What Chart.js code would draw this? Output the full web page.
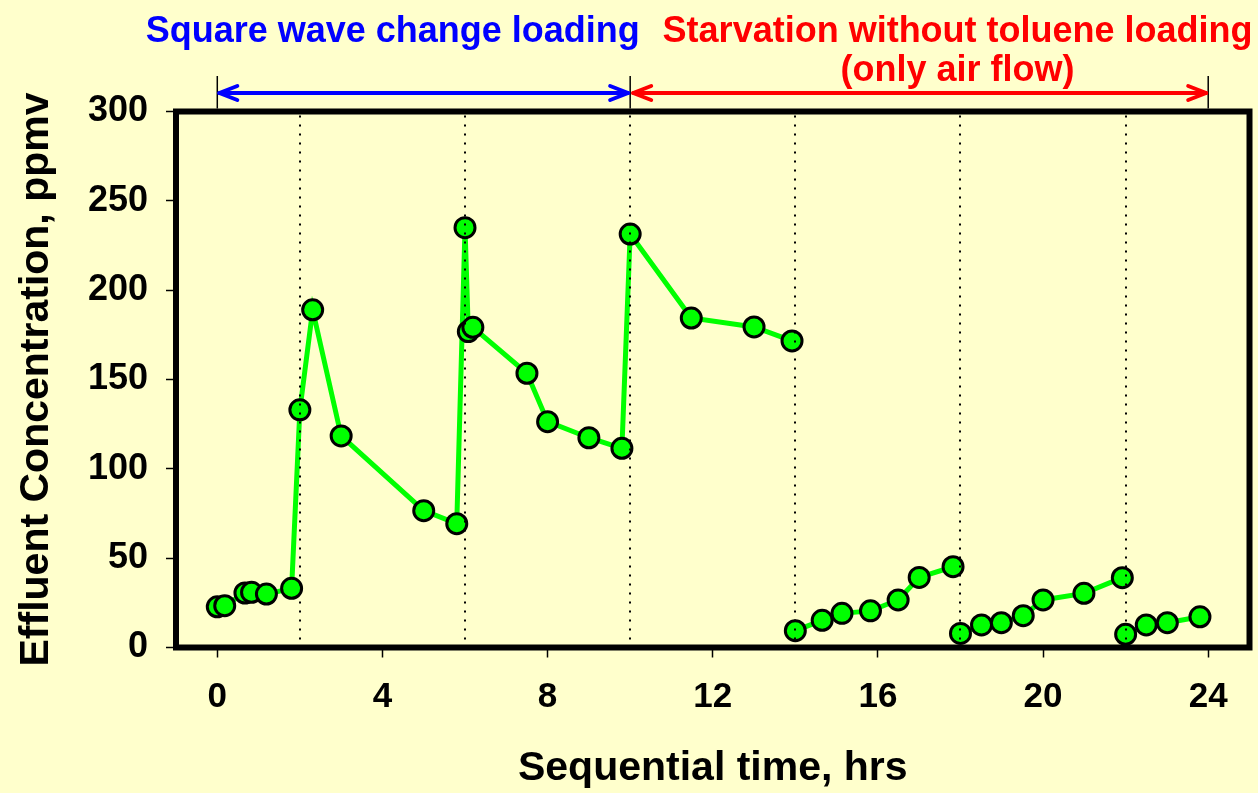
<!DOCTYPE html>
<html>
<head>
<meta charset="utf-8">
<script src="https://cdn.jsdelivr.net/npm/chart.js@4/dist/chart.umd.min.js"></script>
<style>
    html, body { margin: 0; padding: 0; background: #FFFFCC; overflow: hidden; }
    #wrap { width: 1258px; height: 793px; position: relative; }
</style>
</head>
<body>
<div id="wrap"><canvas id="effluentChart"></canvas></div>
<script>
// Effluent toluene concentration vs sequential time

// phase 1: square wave loading (0 - 14 h)
const seg1Time = [0, 0.18, 0.67, 0.83, 1.19, 1.8, 2.0, 2.31, 3.0, 5.0, 5.8, 6.0, 6.08, 6.19, 7.5, 8.0, 9.0, 9.8, 10.0, 11.48, 13.0, 13.92];
const seg1Conc = [22.8, 23.4, 30.5, 30.9, 29.9, 33.1, 133, 189, 118.4, 76.6, 69.3, 235, 176.8, 179.2, 153.5, 126.4, 117.4, 111.5, 231.4, 184.4, 179.4, 171.6];
// starvation periods (no toluene, only air)
const seg2Time = [14.0, 14.65, 15.13, 15.82, 16.49, 17.0, 17.82];
const seg2Conc = [9.4, 15.2, 19.1, 20.5, 26.6, 39.2, 45.2];
const seg3Time = [18.0, 18.51, 18.99, 19.52, 20.0, 20.99, 21.92];
const seg3Conc = [7.9, 12.6, 13.9, 17.8, 26.6, 30.3, 39.1];
const seg4Time = [22.0, 22.5, 23.01, 23.8];
const seg4Conc = [7.4, 12.6, 13.9, 17.2];

const xTickValues = [0, 4, 8, 12, 16, 20, 24];
const yTickValues = [0, 50, 100, 150, 200, 250, 300];
const switchTimes = [2, 6, 10, 14, 18, 22];
const phaseBounds = [0, 10, 24];
const phaseLabels = ['Square wave change loading', 'Starvation without toluene loading', '(only air flow)'];

const FONT = '"Liberation Sans", Arial, sans-serif';
const GREEN = '#00FF00';

function toPoints(t, c) {
    return t.map((v, i) => ({ x: v, y: c[i] }));
}

function segment(t, c) {
    return {
        data: toPoints(t, c),
        borderColor: GREEN,
        borderWidth: 5,
        backgroundColor: GREEN,
        pointRadius: 10,
        pointHoverRadius: 10,
        pointBackgroundColor: GREEN,
        pointBorderColor: '#000',
        pointBorderWidth: 3,
        tension: 0,
        clip: false
    };
}

// dotted switch lines, plot frame and the phase arrows on top
const overlayPlugin = {
    id: 'overlay',
    afterDatasetsDraw(chart) {
        const { ctx, chartArea, scales: { x } } = chart;
        ctx.save();
        ctx.strokeStyle = '#000';
        ctx.lineWidth = 2;
        ctx.setLineDash([2, 7]);
        switchTimes.forEach(t => {
            const px = Math.round(x.getPixelForValue(t));
            ctx.beginPath();
            ctx.moveTo(px, chartArea.top + 4);
            ctx.lineTo(px, chartArea.bottom);
            ctx.stroke();
        });
        ctx.restore();
    },
    afterDraw(chart) {
        const { ctx, chartArea, scales: { x } } = chart;
        ctx.save();
        // frame
        ctx.strokeStyle = '#000';
        ctx.lineWidth = 6;
        ctx.strokeRect(chartArea.left, chartArea.top, chartArea.right - chartArea.left, chartArea.bottom - chartArea.top);

        // bounds of the two phases
        const bx = phaseBounds.map(v => x.getPixelForValue(v));
        ctx.lineWidth = 1.5;
        bx.forEach(px => {
            ctx.beginPath();
            ctx.moveTo(px, 76);
            ctx.lineTo(px, chartArea.top - 3);
            ctx.stroke();
        });

        const arrowY = 93;
        drawArrow(ctx, bx[0] + 2, bx[1] - 2, arrowY, '#0000FF');
        drawArrow(ctx, bx[1] + 3, bx[2] - 2, arrowY, '#FF0000');

        ctx.font = 'bold 36px ' + FONT;
        ctx.textAlign = 'center';
        ctx.textBaseline = 'alphabetic';
        ctx.fillStyle = '#0000FF';
        ctx.fillText(phaseLabels[0], x.getPixelForValue(4.25), 42);
        ctx.fillStyle = '#FF0000';
        ctx.fillText(phaseLabels[1], x.getPixelForValue(17.93), 42);
        ctx.fillText(phaseLabels[2], x.getPixelForValue(17.93), 81);
        ctx.restore();
    }
};

function drawArrow(ctx, x1, x2, y, color) {
    ctx.save();
    ctx.strokeStyle = color;
    ctx.lineWidth = 4;
    ctx.lineCap = 'round';
    ctx.lineJoin = 'round';
    ctx.beginPath();
    ctx.moveTo(x1, y);
    ctx.lineTo(x2, y);
    ctx.stroke();
    ctx.beginPath();
    ctx.moveTo(x1 + 18, y - 7);
    ctx.lineTo(x1, y);
    ctx.lineTo(x1 + 18, y + 7);
    ctx.moveTo(x2 - 18, y - 7);
    ctx.lineTo(x2, y);
    ctx.lineTo(x2 - 18, y + 7);
    ctx.stroke();
    ctx.restore();
}

const ctx = document.getElementById('effluentChart').getContext('2d');

new Chart(ctx, {
    type: 'line',
    data: {
        datasets: [
            segment(seg1Time, seg1Conc),
            segment(seg2Time, seg2Conc),
            segment(seg3Time, seg3Conc),
            segment(seg4Time, seg4Conc)
        ]
    },
    options: {
        responsive: true,
        maintainAspectRatio: false,
        animation: false,
        layout: {
            autoPadding: false,
            padding: { top: 111.5, right: 8.5, left: 0, bottom: 0 }
        },
        plugins: {
            legend: { display: false },
            tooltip: { enabled: false }
        },
        scales: {
            x: {
                type: 'linear',
                min: -1,
                max: 25,
                afterBuildTicks: s => { s.ticks = xTickValues.map(v => ({ value: v })); },
                afterFit: s => {
                    s.height = 145.5;
                    s.paddingLeft = 0;
                    s.paddingRight = 0;
                },
                border: { display: false },
                grid: {
                    drawOnChartArea: false,
                    tickLength: 10,
                    tickColor: '#000',
                    tickWidth: 1.5
                },
                ticks: {
                    color: '#000',
                    padding: 19,
                    maxRotation: 0,
                    autoSkip: false,
                    font: { family: FONT, size: 35, weight: 'bold' }
                },
                title: {
                    display: true,
                    text: 'Sequential time, hrs',
                    color: '#000',
                    padding: { top: 0, bottom: 0 },
                    font: { family: FONT, size: 41, weight: 'bold' }
                }
            },
            y: {
                min: 0,
                max: 300,
                afterBuildTicks: s => { s.ticks = yTickValues.map(v => ({ value: v })); },
                afterFit: s => {
                    s.width = 176;
                    s.paddingTop = 0;
                    s.paddingBottom = 0;
                },
                border: { display: false },
                grid: {
                    drawOnChartArea: false,
                    tickLength: 10,
                    tickColor: '#000',
                    tickWidth: 1.5
                },
                ticks: {
                    color: '#000',
                    padding: 18,
                    font: { family: FONT, size: 36, weight: 'bold' }
                },
                title: {
                    display: true,
                    text: 'Effluent Concentration, ppmv',
                    color: '#000',
                    padding: { top: 12, bottom: 0 },
                    font: { family: FONT, size: 41, weight: 'bold' }
                }
            }
        }
    },
    plugins: [overlayPlugin]
});
</script>
</body>
</html>
